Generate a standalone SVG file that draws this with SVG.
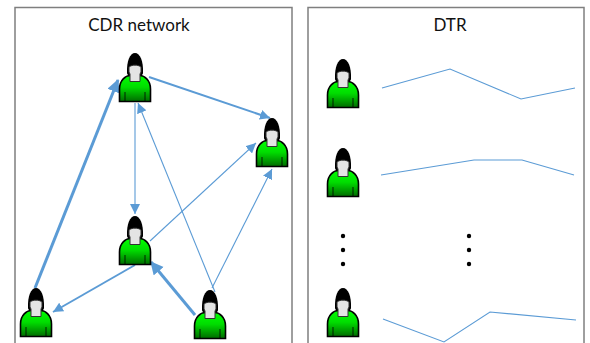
<svg xmlns="http://www.w3.org/2000/svg" width="590" height="343" viewBox="0 0 590 343">
<style>
.panel{fill:#fff;stroke:#7f7f7f;stroke-width:1.5}
.title{font-family:Lato,"Open Sans",sans-serif;font-size:17px;fill:#111;text-anchor:middle}
.thin{fill:none;stroke:#5b9bd5;stroke-width:1.100}
.med{fill:none;stroke:#5b9bd5;stroke-width:2}
.thick{fill:none;stroke:#5b9bd5;stroke-width:3}
.dot{fill:#000}
</style>
<defs>
<linearGradient id="g" x1="0" y1="0" x2="0" y2="1"><stop offset="0" stop-color="#00ff00"/><stop offset="0.45" stop-color="#00dd00"/><stop offset="1" stop-color="#006b00"/></linearGradient>
<marker id="a" markerUnits="userSpaceOnUse" markerWidth="12" markerHeight="10" refX="10" refY="5" orient="auto"><path d="M0 0L10 5L0 10Z" fill="#5b9bd5"/></marker>
<marker id="b" markerUnits="userSpaceOnUse" markerWidth="14" markerHeight="14" refX="12" refY="6.500" orient="auto"><path d="M0 0L13 6.500L0 13Z" fill="#5b9bd5"/></marker>
<symbol id="p" overflow="visible">
<path d="M-15.500 48.500V36C-15.500 27-9 22.500-5 22.500H5C9 22.500 15.500 27 15.500 36V48.500Z" fill="url(#g)" stroke="#000" stroke-width="1.600"/>
<path d="M-10 48V39M10 48V39" stroke="#000" stroke-width=".8"/>
<path d="M-8 20C-8.500 8-5 0 0 0S8.500 8 8 20C7.500 25-7.500 25-8 20Z" fill="#000"/>
<path d="M-6 14C-3 11.500 3 11.500 6 14V19L5 21V28.500H-5V21L-6 19Z" fill="#e4e4e4" stroke="#333" stroke-width="1"/>
</symbol>
</defs>
<rect x="0" y="0" width="590" height="343" fill="#fff"/>
<rect class="panel" x="15" y="7.500" width="277" height="345"/>
<rect class="panel" x="308" y="7.500" width="276" height="345"/>
<text class="title" x="139" y="31">CDR network</text>
<text class="title" x="450" y="31">DTR</text>
<g id="connectors">
<path class="thick" marker-end="url(#b)" d="M35 288L118 80"/>
<path class="med" marker-end="url(#a)" d="M149 77L270 118"/>
<path class="thin" marker-end="url(#a)" d="M135 103V214"/>
<path class="thin" marker-end="url(#a)" d="M215 292L138 103"/>
<path class="thin" marker-end="url(#a)" d="M150 241L256 143"/>
<path class="thin" marker-end="url(#a)" d="M212 288L272 169"/>
<path class="med" marker-end="url(#a)" d="M135 265L53 312"/>
<path class="thick" marker-end="url(#b)" d="M195 315L151 262"/>
<path class="thin" d="M382 88L450 69L521 99L575 88"/>
<path class="thin" d="M381 175L474 160H522L574 175"/>
<path class="thin" d="M383 319L444 342L490 312L576 320"/>
</g>
<use id="n1" href="#p" x="135" y="53"/>
<use id="n2" href="#p" x="272" y="118"/>
<use id="n3" href="#p" x="135" y="216"/>
<use id="n4" href="#p" x="36" y="288"/>
<use id="n5" href="#p" x="210" y="290"/>
<use id="d1" href="#p" x="343" y="59"/>
<use id="d2" href="#p" x="343" y="148"/>
<use id="d3" href="#p" x="343" y="288"/>
<g id="dots">
<circle class="dot" cx="343" cy="236" r="2.200"/><circle class="dot" cx="343" cy="250" r="2.200"/><circle class="dot" cx="343" cy="264" r="2.200"/>
<circle class="dot" cx="469" cy="236" r="2.200"/><circle class="dot" cx="469" cy="250" r="2.200"/><circle class="dot" cx="469" cy="264" r="2.200"/>
</g>
</svg>
